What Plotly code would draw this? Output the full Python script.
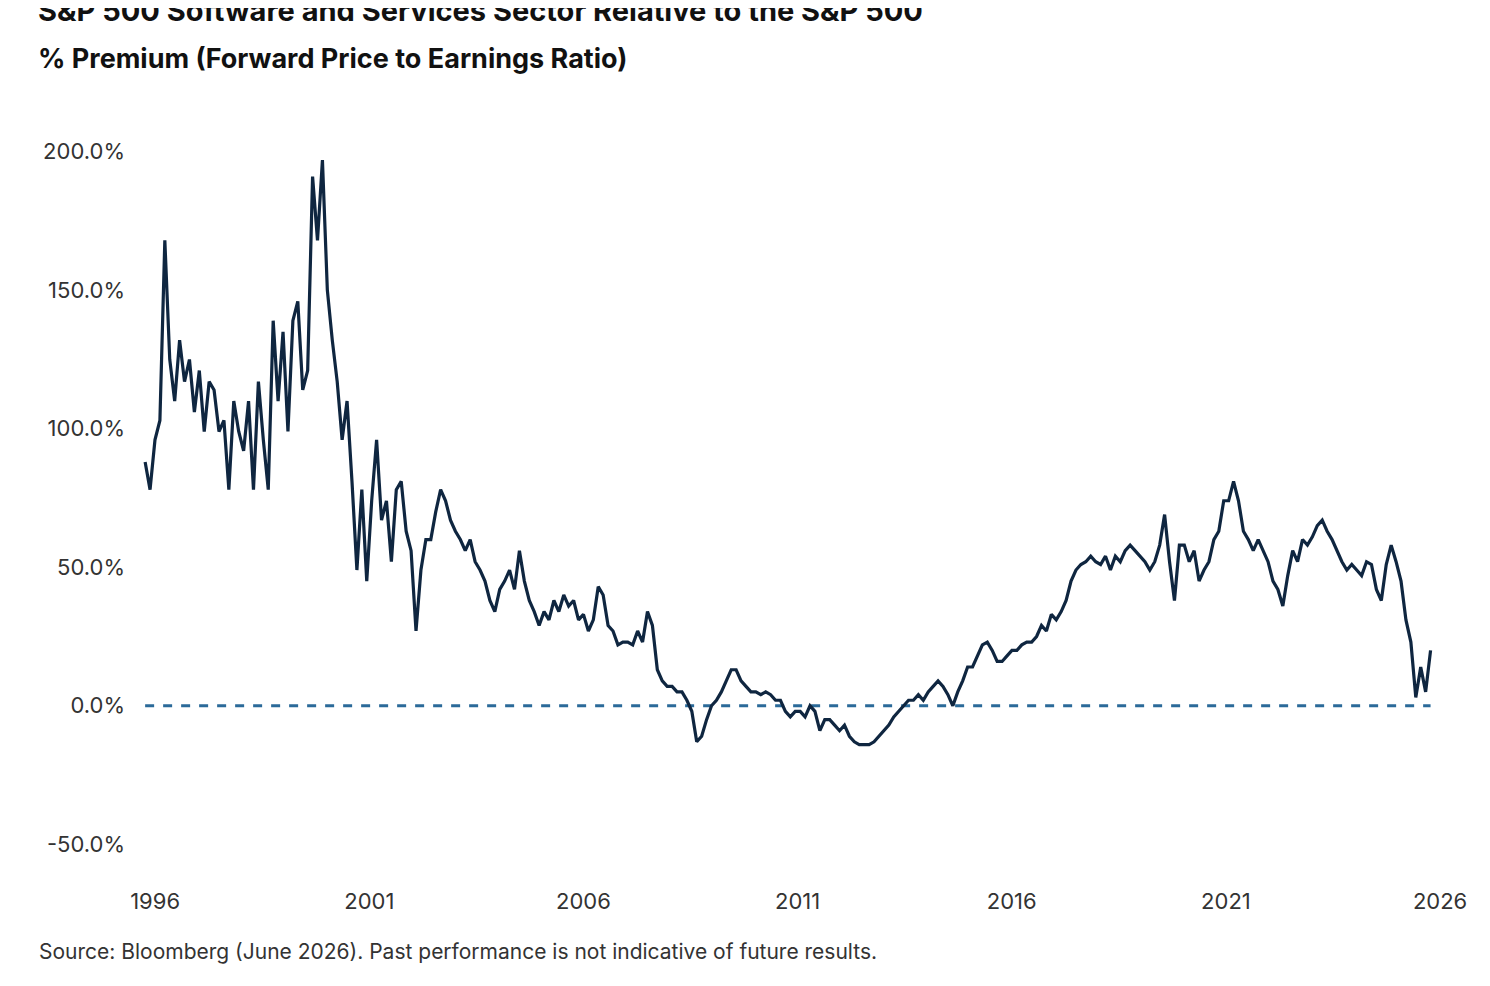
import pandas as pd
import plotly.graph_objects as go

start_date = "1995-10-08"
step = "42D"
premium = [88,78,96,103,168,125,110,132,117,125,106,121,99,117,114,99,103,78,110,99,92,110,78,117,96,78,139,110,135,99,139,146,114,121,191,168,197,150,132,117,96,110,81,49,78,45,74,96,67,74,52,78,81,63,56,27,49,60,60,70,78,74,67,63,60,56,60,52,49,45,38,34,42,45,49,42,56,45,38,34,29,34,31,38,34,40,36,38,31,33,27,31,43,40,29,27,22,23,23,22,27,23,34,29,13,9,7,7,5,5,2,-2,-13,-11,-5,0,2,5,9,13,13,9,7,5,5,4,5,4,2,2,-2,-4,-2,-2,-4,0,-2,-9,-5,-5,-7,-9,-7,-11,-13,-14,-14,-14,-13,-11,-9,-7,-4,-2,0,2,2,4,2,5,7,9,7,4,0,5,9,14,14,18,22,23,20,16,16,18,20,20,22,23,23,25,29,27,33,31,34,38,45,49,51,52,54,52,51,54,49,54,52,56,58,56,54,52,49,52,58,69,52,38,58,58,52,56,45,49,52,60,63,74,74,81,74,63,60,56,60,56,52,45,42,36,47,56,52,60,58,61,65,67,63,60,56,52,49,51,49,47,52,51,42,38,51,58,52,45,31,23,3,14,5,20]
dates = pd.date_range(start_date, periods=len(premium), freq=step)
tick_years = ["1996","2001","2006","2011","2016","2021","2026"]

fig = go.Figure()
fig.add_trace(go.Scatter(x=[dates[0], dates[-1]], y=[0, 0], mode="lines",
                         line=dict(color="#2b6a99", width=3, dash="dash"), hoverinfo="skip"))
fig.add_trace(go.Scatter(x=dates, y=premium, mode="lines",
                         line=dict(color="#0f2640", width=3.2)))
fig.update_layout(
    width=1490, height=986, showlegend=False,
    paper_bgcolor="white", plot_bgcolor="white",
    margin=dict(l=122, r=38, t=116, b=122),
    font=dict(family="Inter", color="#333"),
    xaxis=dict(range=["1995-06-01", "2026-06-20"], showgrid=False, zeroline=False,
               tickvals=[f"{y}-01-01" for y in tick_years], ticktext=tick_years,
               tickfont=dict(size=22), ticks="", ticklabelstandoff=14),
    yaxis=dict(range=[-60, 210], showgrid=False, zeroline=False,
               tickvals=[-50, 0, 50, 100, 150, 200],
               ticktext=["-50.0%", "0.0%", "50.0%", "100.0%", "150.0%", "200.0%"],
               tickfont=dict(size=22), ticks="", ticklabelstandoff=4),
    annotations=[
        dict(text="<b>S&P 500 Software and Services Sector Relative to the S&P 500</b>",
             xref="paper", yref="paper", x=-0.071, y=1.152, xanchor="left", yanchor="middle",
             showarrow=False, font=dict(size=29, color="#111")),
        dict(text="<b>% Premium (Forward Price to Earnings Ratio)</b>",
             xref="paper", yref="paper", x=-0.071, y=1.088, xanchor="left", yanchor="middle",
             showarrow=False, font=dict(size=27, color="#111")),
        dict(text="Source: Bloomberg (June 2026). Past performance is not indicative of future results.",
             xref="paper", yref="paper", x=-0.07, y=-0.087, xanchor="left", yanchor="top",
             showarrow=False, font=dict(size=21, color="#333"))],
)
fig.write_html("out.html")
